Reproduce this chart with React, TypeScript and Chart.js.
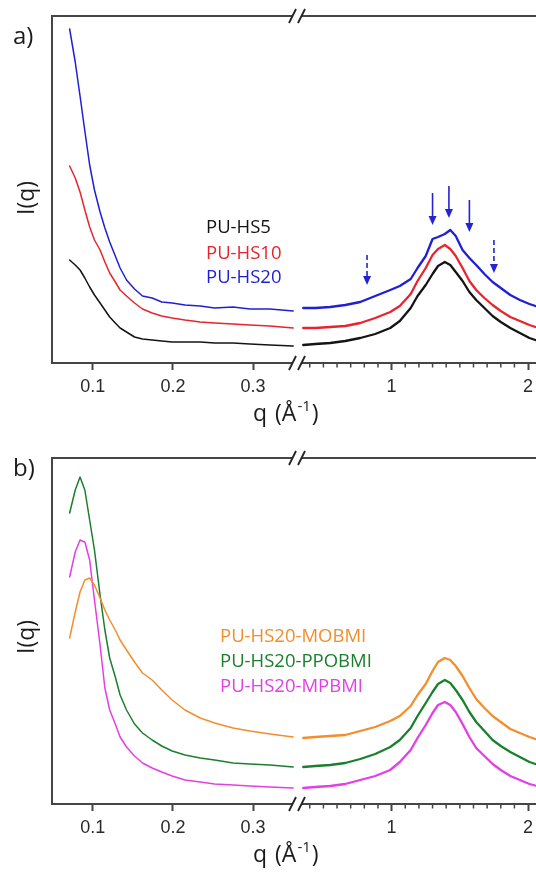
import React, { useEffect, useRef } from 'react';
import { Chart, LinearScale, registerables } from 'chart.js';

Chart.register(...registerables);

// ---------- data (q in Å^-1, intensity in arbitrary units) ----------
const Q_SAXS = [0.071, 0.078, 0.084, 0.09, 0.096, 0.102, 0.109, 0.115, 0.121, 0.128, 0.134, 0.142, 0.152, 0.162, 0.174, 0.186, 0.199, 0.215, 0.234, 0.252, 0.275, 0.296, 0.321, 0.35];
const Q_WAXS = [0.352, 0.44, 0.55, 0.66, 0.77, 0.88, 0.99, 1.06, 1.14, 1.19, 1.25, 1.3, 1.34, 1.39, 1.43, 1.47, 1.52, 1.57, 1.62, 1.68, 1.74, 1.8, 1.87, 1.94, 2.01, 2.12, 2.3];

const HS5_SAXS = [103, 98, 93, 85, 76, 68, 60, 53, 46, 40, 35, 31, 26, 24, 23, 22, 21, 21, 21, 20, 20, 19, 18, 17];
const HS10_SAXS = [197, 185, 171, 153, 136, 123, 113, 101, 90, 81, 73, 67, 60, 54, 50, 47, 45, 43, 41, 40, 39, 38, 37, 35];
const HS20_SAXS = [334, 301, 267, 232, 198, 173, 151, 135, 121, 107, 95, 83, 74, 67, 65, 61, 60, 58, 57, 55, 56, 54, 54, 52];
const HS5_WAXS = [18, 19, 20, 22, 25, 29, 35, 42, 55, 67, 78, 89, 97, 101, 98, 91, 82, 71, 63, 55, 47, 41, 35, 30, 25, 20, 14];
const HS10_WAXS = [35, 35, 36, 37, 40, 45, 51, 57, 69, 82, 95, 108, 114, 118, 114, 107, 95, 82, 73, 65, 58, 52, 46, 42, 38, 33, 28];
const HS20_WAXS = [55, 55, 56, 58, 61, 67, 73, 77, 84, 95, 107, 124, 126, 129, 133, 127, 113, 105, 98, 89, 81, 75, 68, 63, 59, 54, 49];

const MOBMI_SAXS = [166, 192, 212, 224, 226, 219, 206, 194, 184, 174, 164, 154, 142, 131, 124, 114, 104, 94, 86, 81, 76, 73, 70, 67];
const PPOBMI_SAXS = [291, 314, 327, 314, 284, 254, 209, 174, 146, 127, 109, 94, 80, 71, 64, 58, 53, 49, 46, 44, 41, 40, 39, 37];
const MPBMI_SAXS = [227, 252, 264, 262, 244, 204, 159, 116, 94, 80, 67, 57, 48, 41, 36, 32, 28, 24, 22, 20, 19, 18, 17, 16];
const MOBMI_WAXS = [66, 67, 68, 69, 73, 77, 83, 88, 98, 109, 120, 133, 142, 146, 144, 138, 128, 116, 105, 96, 88, 82, 75, 71, 67, 62, 57];
const PPOBMI_WAXS = [37, 38, 39, 41, 45, 50, 57, 64, 76, 88, 101, 112, 120, 124, 121, 114, 104, 92, 82, 73, 64, 58, 52, 47, 42, 37, 32];
const MPBMI_WAXS = [16, 17, 18, 20, 24, 28, 34, 42, 54, 66, 79, 91, 99, 102, 99, 92, 80, 67, 56, 48, 40, 34, 28, 24, 20, 16, 12];

const MAJOR_TICKS = [0.1, 0.2, 0.3, 1, 2];
const MINOR_TICKS = [0.4, 0.5, 0.6, 0.7, 0.8, 0.9, 1.1, 1.2, 1.3, 1.4, 1.5, 1.6, 1.7, 1.8, 1.9, 2.1, 2.2];

// arrows of panel a) (q, start intensity, tip intensity, dashed?)
const ARROW_Q = [0.82, 1.3, 1.42, 1.57, 1.75];
const ARROW_FROM = [108, 170, 177, 163, 123];
const ARROW_TO = [78, 138, 145, 131, 90];
const ARROW_DASHED = [true, false, false, false, true];

// ---------- broken q axis ----------
const Q_MIN = 0.049;
const Q_BREAK = 0.351;
const Q_MAX = 2.3;
const SAXS_SHARE = 0.468;
const GAP_SHARE = 0.0176;

class BrokenQScale extends LinearScale {
  static id = 'brokenQ';
  static defaults = {};
  buildTicks() {
    return MAJOR_TICKS.map((value) => ({ value }));
  }
  getPixelForValue(value: any) {
    if (value === null || value === undefined || isNaN(value)) return NaN;
    const s: any = this;
    const w = s.right - s.left;
    if (value <= Q_BREAK) {
      return s.left + (w * SAXS_SHARE * (value - Q_MIN)) / (Q_BREAK - Q_MIN);
    }
    return (
      s.left +
      w * (SAXS_SHARE + GAP_SHARE) +
      (w * (1 - SAXS_SHARE - GAP_SHARE) * (value - Q_BREAK)) / (Q_MAX - Q_BREAK)
    );
  }
  getValueForPixel(pixel: number) {
    const s: any = this;
    const w = s.right - s.left;
    const rel = pixel - s.left;
    if (rel <= w * SAXS_SHARE) return Q_MIN + (rel / (w * SAXS_SHARE)) * (Q_BREAK - Q_MIN);
    const r2 = rel - w * (SAXS_SHARE + GAP_SHARE);
    return Q_BREAK + (r2 / (w * (1 - SAXS_SHARE - GAP_SHARE))) * (Q_MAX - Q_BREAK);
  }
}
Chart.register(BrokenQScale as any);

// ---------- styling ----------
const AXIS_COLOR = '#454545';
const TEXT_FONT = '"Open Sans", "Noto Sans", sans-serif';
const TICK_FONT = '"Liberation Sans", Arial, sans-serif';
const CANVAS_W = 590;
const CANVAS_H = 437;

type Series = { label: string; color: string; saxs: number[]; waxs: number[] };

const SERIES_A: Series[] = [
  { label: 'PU-HS5', color: '#141414', saxs: HS5_SAXS, waxs: HS5_WAXS },
  { label: 'PU-HS10', color: '#e8242c', saxs: HS10_SAXS, waxs: HS10_WAXS },
  { label: 'PU-HS20', color: '#1f1fd6', saxs: HS20_SAXS, waxs: HS20_WAXS },
];
const SERIES_B: Series[] = [
  { label: 'PU-HS20-MOBMI', color: '#f28e2b', saxs: MOBMI_SAXS, waxs: MOBMI_WAXS },
  { label: 'PU-HS20-PPOBMI', color: '#1b7f2e', saxs: PPOBMI_SAXS, waxs: PPOBMI_WAXS },
  { label: 'PU-HS20-MPBMI', color: '#e23fe6', saxs: MPBMI_SAXS, waxs: MPBMI_WAXS },
];

type PanelCfg = {
  top: number;
  padTop: number;
  xAxisHeight: number;
  yMax: number;
  series: Series[];
  label: string;
  labelY: number;
  yTitleY: number;
  xTitleY: number;
  legendX: number;
  legendY: number[];
  arrows: boolean;
};

const PANEL_A: PanelCfg = {
  top: 0, padTop: 16, xAxisHeight: 74, yMax: 347, series: SERIES_A,
  label: 'a)', labelY: 44, yTitleY: 198, xTitleY: 421,
  legendX: 206, legendY: [233, 259, 283], arrows: true,
};
const PANEL_B: PanelCfg = {
  top: 437, padTop: 21, xAxisHeight: 70, yMax: 346, series: SERIES_B,
  label: 'b)', labelY: 39, yTitleY: 200, xTitleY: 425,
  legendX: 220, legendY: [205, 230, 255], arrows: false,
};

function makeOverlay(cfg: PanelCfg) {
  return {
    id: 'overlay',
    afterDraw(chart: any) {
      const ctx = chart.ctx;
      const xs = chart.scales.x;
      const ys = chart.scales.y;
      const { left, right, top, bottom } = chart.chartArea;
      const leftEnd = xs.getPixelForValue(Q_BREAK);
      const rightStart = xs.getPixelForValue(Q_BREAK + 1e-9);
      const bc = (leftEnd + rightStart) / 2 - 1.5;
      ctx.save();
      // frame with breaks
      ctx.strokeStyle = AXIS_COLOR;
      ctx.lineWidth = 2;
      ctx.beginPath();
      ctx.moveTo(left, top - 1);
      ctx.lineTo(left, bottom + 1);
      ctx.moveTo(right, top - 1);
      ctx.lineTo(right, bottom + 1);
      ctx.stroke();
      for (const y of [top, bottom]) {
        ctx.beginPath();
        ctx.moveTo(left - 1, y);
        ctx.lineTo(bc - 4.5, y);
        ctx.moveTo(bc + 4.5, y);
        ctx.lineTo(right + 1, y);
        ctx.stroke();
        ctx.strokeStyle = '#222';
        ctx.lineWidth = 1.8;
        for (const cx of [bc - 4.5, bc + 4.5]) {
          ctx.beginPath();
          ctx.moveTo(cx - 3.5, y + 7);
          ctx.lineTo(cx + 3.5, y - 7);
          ctx.stroke();
        }
        ctx.strokeStyle = AXIS_COLOR;
        ctx.lineWidth = 2;
      }
      // minor ticks
      ctx.lineWidth = 1.5;
      for (const v of MINOR_TICKS) {
        const px = xs.getPixelForValue(v);
        ctx.beginPath();
        ctx.moveTo(px, bottom);
        ctx.lineTo(px, bottom + 4.5);
        ctx.stroke();
      }
      // panel label
      ctx.fillStyle = '#1a1a1a';
      ctx.textBaseline = 'alphabetic';
      ctx.textAlign = 'left';
      ctx.font = `24px ${TEXT_FONT}`;
      ctx.fillText(cfg.label, 13, cfg.labelY);
      // y title
      ctx.save();
      ctx.translate(27, cfg.yTitleY);
      ctx.rotate(-Math.PI / 2);
      ctx.textAlign = 'center';
      ctx.textBaseline = 'middle';
      ctx.font = `23px ${TEXT_FONT}`;
      ctx.fillText('I(q)', 0, 0);
      ctx.restore();
      // x title  q  (Å^-1)
      ctx.font = `23px ${TEXT_FONT}`;
      let x = 253;
      const yb = cfg.xTitleY;
      ctx.fillText('q', x, yb);
      x += ctx.measureText('q').width + 8;
      ctx.fillText('(Å', x, yb);
      x += ctx.measureText('(Å').width + 1;
      ctx.font = `15px ${TEXT_FONT}`;
      ctx.fillText('-1', x, yb - 10);
      x += ctx.measureText('-1').width + 1;
      ctx.font = `23px ${TEXT_FONT}`;
      ctx.fillText(')', x, yb);
      // legend
      ctx.font = `18.5px ${TEXT_FONT}`;
      cfg.series.forEach((s, i) => {
        ctx.fillStyle = s.color;
        ctx.fillText(s.label, cfg.legendX, cfg.legendY[i]);
      });
      // arrows
      if (cfg.arrows) {
        ctx.strokeStyle = '#2424d2';
        ctx.fillStyle = '#2424d2';
        ctx.lineWidth = 1.6;
        ARROW_Q.forEach((q, i) => {
          const ax = xs.getPixelForValue(q);
          const y0 = ys.getPixelForValue(ARROW_FROM[i]);
          const y1 = ys.getPixelForValue(ARROW_TO[i]);
          ctx.setLineDash(ARROW_DASHED[i] ? [5, 3] : []);
          ctx.beginPath();
          ctx.moveTo(ax, y0);
          ctx.lineTo(ax, y1 - 8);
          ctx.stroke();
          ctx.setLineDash([]);
          ctx.beginPath();
          ctx.moveTo(ax - 4, y1 - 9);
          ctx.lineTo(ax + 4, y1 - 9);
          ctx.lineTo(ax, y1);
          ctx.closePath();
          ctx.fill();
        });
      }
      ctx.restore();
    },
  };
}

function Panel({ cfg }: { cfg: PanelCfg }) {
  const ref = useRef<HTMLCanvasElement>(null);
  useEffect(() => {
    const datasets: any[] = [];
    cfg.series.forEach((s) => {
      datasets.push({
        label: s.label + ' (SAXS)',
        data: Q_SAXS.map((q, i) => ({ x: q, y: s.saxs[i] })),
        borderColor: s.color,
        borderWidth: 1.5,
      });
      datasets.push({
        label: s.label + ' (WAXS)',
        data: Q_WAXS.map((q, i) => ({ x: q, y: s.waxs[i] })),
        borderColor: s.color,
        borderWidth: 2.3,
      });
    });
    const chart = new Chart(ref.current as HTMLCanvasElement, {
      type: 'line',
      data: { datasets },
      options: {
        responsive: false,
        animation: false,
        events: [],
        layout: { padding: { left: 52, top: cfg.padTop, right: CANVAS_W - 569, bottom: 0 } },
        elements: {
          point: { radius: 0 },
          line: { tension: 0, borderJoinStyle: 'round', borderCapStyle: 'round' },
        },
        plugins: { legend: { display: false }, tooltip: { enabled: false } },
        scales: {
          x: {
            type: 'brokenQ' as any,
            min: Q_MIN,
            max: Q_MAX,
            afterFit: (scale: any) => {
              scale.height = cfg.xAxisHeight;
            },
            grid: {
              drawOnChartArea: false,
              drawTicks: true,
              tickLength: 7,
              tickWidth: 2,
              tickColor: AXIS_COLOR,
            },
            border: { display: false },
            ticks: {
              autoSkip: false,
              maxRotation: 0,
              padding: 6,
              color: '#2a2a2a',
              font: { family: TICK_FONT, size: 18 },
              callback: (v: any) => String(v),
            },
          } as any,
          y: { display: false, min: 0, max: cfg.yMax },
        },
      },
      plugins: [makeOverlay(cfg)],
    });
    return () => chart.destroy();
  }, [cfg]);
  return (
    <canvas
      ref={ref}
      width={CANVAS_W}
      height={CANVAS_H}
      style={{ position: 'absolute', left: 0, top: cfg.top, width: CANVAS_W, height: CANVAS_H }}
    />
  );
}

export default function App() {
  return (
    <div
      style={{
        position: 'fixed',
        left: 0,
        top: 0,
        width: 536,
        height: 874,
        overflow: 'hidden',
        background: '#fff',
      }}
    >
      <Panel cfg={PANEL_A} />
      <Panel cfg={PANEL_B} />
    </div>
  );
}
